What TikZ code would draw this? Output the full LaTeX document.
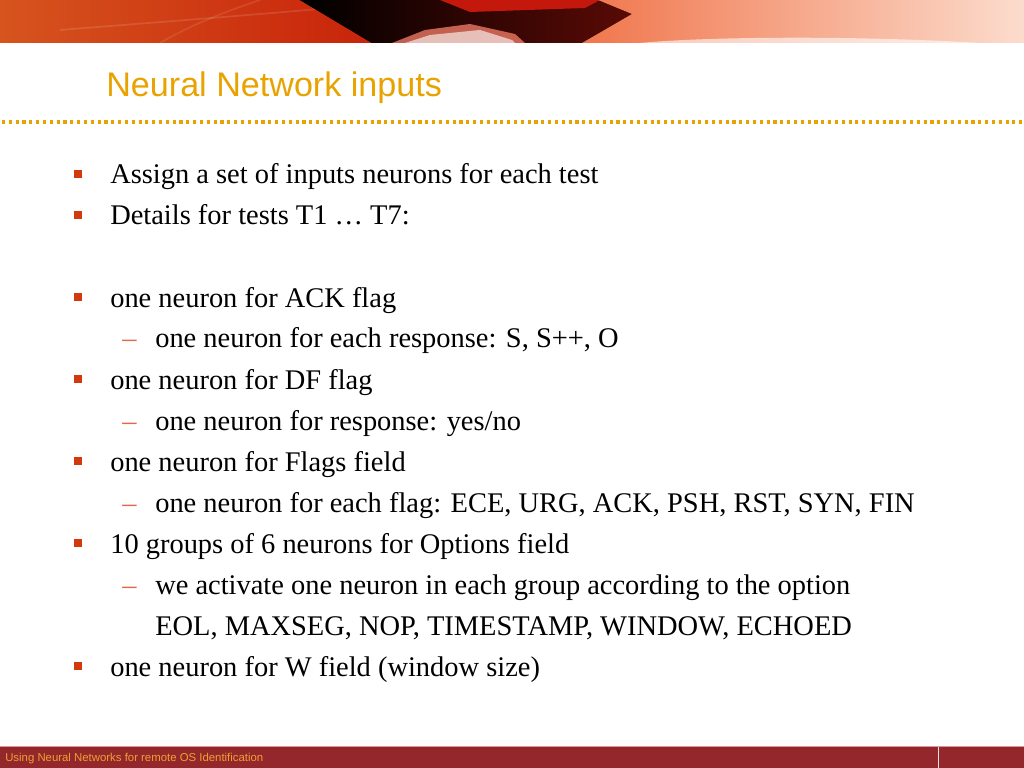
\documentclass[tikz,border=0pt]{standalone}
\usepackage{fontspec}
\setmainfont{Liberation Serif}
\setsansfont{Liberation Sans}
\usepackage{tikz}
\usetikzlibrary{positioning,calc}
\definecolor{titlegold}{RGB}{233,163,0}
\definecolor{bulletred}{RGB}{210,58,14}
\definecolor{footred}{RGB}{147,39,44}
\definecolor{footline}{RGB}{220,150,150}
\definecolor{foottext}{RGB}{240,160,48}
\definecolor{bannerorange}{RGB}{214,84,30}
\definecolor{bannerpeach}{RGB}{252,220,205}
\definecolor{bannerred}{RGB}{200,36,10}
\definecolor{bannerdeep}{RGB}{196,24,12}
\definecolor{bannerdark}{RGB}{90,10,5}
\definecolor{bannersalmon}{RGB}{240,118,76}
\definecolor{bannerpink}{RGB}{235,120,100}

\begin{document}
\begin{tikzpicture}
[x={(0.703125pt,0)},y={(0,-0.703125pt)},
bullet/.style = {fill = bulletred, inner sep = 0pt, minimum size = 5.4pt},
main/.style = {anchor = base west, inner sep = 0pt, font = \fontsize{20}{24}\selectfont},
dashmark/.style = {anchor = base west, inner sep = 0pt, text = bulletred!75, font = \fontsize{20}{24}\selectfont},]
\useasboundingbox (0,0) rectangle (1024,768);
\fill[white] (0,0) rectangle (1024,768);
% banner
\fill[left color = bannerorange, right color = bannerpeach] (0,0) rectangle (1024,43);
\fill[left color = bannerorange, right color = bannerred] (0,0) -- (300,0) -- (372,43) -- (0,43) -- cycle;
\draw[white, opacity = 0.12, line width = 1.2pt] (60,30) .. controls (160,22) and (240,16) .. (330,8);
\draw[white, opacity = 0.1, line width = 1.2pt] (160,43) .. controls (190,25) and (230,10) .. (260,0);
\fill[left color = black, right color = bannerdark] (300,0) -- (600,0) -- (632,14) -- (582,43) -- (372,43) -- cycle;
\fill[bannerdeep] (440,0) -- (600,0) -- (585,8) -- (470,12) -- cycle;
\fill[bannerpink, opacity = 0.8] (392,43) -- (425,30) -- (470,24) -- (515,34) -- (525,43) -- cycle;
\fill[white, opacity = 0.6] (405,43) -- (430,35) -- (480,30) -- (512,40) -- (515,43) -- cycle;
\fill[left color = bannersalmon, right color = bannerpeach] (598,0) -- (1024,0) -- (1024,43) -- (582,43) -- (632,14) -- cycle;
\fill[white, opacity = 0.6] (640,43) .. controls (700,37) and (850,35) .. (980,43) -- cycle;
% title
\node (title) at (106,97)[anchor = base west, inner sep = 0pt, text = titlegold, font = \sffamily\fontsize{24}{28}\selectfont] {Neural Network inputs};
\coordinate (dl) at (2,122);
\coordinate (dr) at (1024,122);
\draw[titlegold, line width = 2.2pt, dash pattern = on 2.2pt off 2.6pt] (dl) -- (dr);
% items
\node (b1) at (78,174)[bullet] {};
\node (t1) at (110,184)[main] {Assign a set of inputs neurons for each test};
\node (b2) at (78,215)[bullet] {};
\node (t2) at (110,225)[main] {Details for tests T1 \dots{} T7:};
\node (b3) at (78,297)[bullet] {};
\node (t3) at (110,307)[main] {one neuron for ACK flag};
\node (d3) at (122,348)[dashmark] {--};
\node (s3) at (155,348)[main] {one neuron for each response: S, S++, O};
\node (b4) at (78,379)[bullet] {};
\node (t4) at (110,389)[main] {one neuron for DF flag};
\node (d4) at (122,430)[dashmark] {--};
\node (s4) at (155,430)[main] {one neuron for response: yes/no};
\node (b5) at (78,461)[bullet] {};
\node (t5) at (110,471)[main] {one neuron for Flags field};
\node (d5) at (122,512)[dashmark] {--};
\node (s5) at (155,512)[main] {one neuron for each flag: ECE, URG, ACK, PSH, RST, SYN, FIN};
\node (b6) at (78,543)[bullet] {};
\node (t6) at (110,553)[main] {10 groups of 6 neurons for Options field};
\node (d6) at (122,594)[dashmark] {--};
\node (s6) at (155,594)[main] {we activate one neuron in each group according to the option};
\node (s6b) at (155,635)[main] {EOL, MAXSEG, NOP, TIMESTAMP, WINDOW, ECHOED};
\node (b7) at (78,666)[bullet] {};
\node (t7) at (110,676)[main] {one neuron for W field (window size)};
% footer
\fill[footred] (0,746) rectangle (1024,768);
\draw[footline, line width = 0.6pt] (0,746.5) -- (1024,746.5);
\coordinate (ft) at (938,747);
\coordinate (fb) at (938,768);
\draw[white!85!footred, line width = 0.7pt] (ft) -- (fb);
\node (foot) at (5,761)[anchor = base west, inner sep = 0pt, text = foottext, font = \sffamily\fontsize{8}{9}\selectfont] {Using Neural Networks for remote OS Identification};
\end{tikzpicture}
\end{document}
